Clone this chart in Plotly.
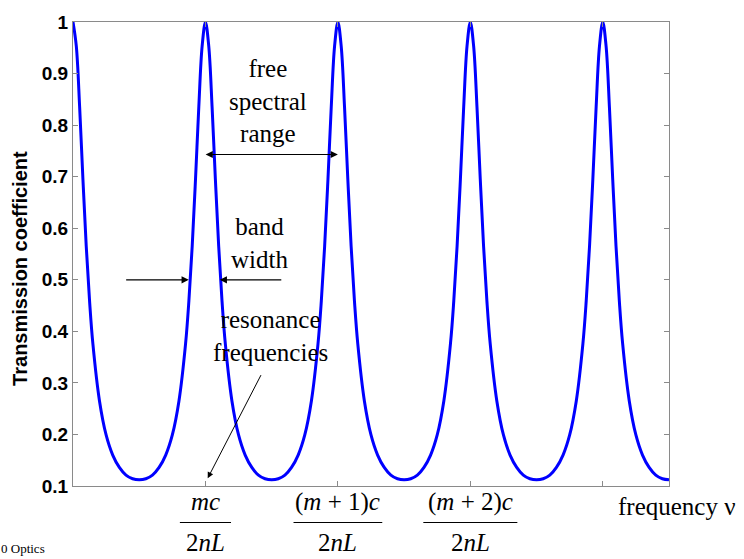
import plotly.graph_objects as go

# frequency in units of the free spectral range (c / 2nL)
frequency = [
    0.000, 0.025, 0.050, 0.075, 0.100, 0.125, 0.150, 0.200, 0.250, 0.300, 0.350, 0.400, 0.450,
    0.500, 0.550, 0.600, 0.650, 0.700, 0.750, 0.800, 0.850, 0.875, 0.900, 0.925, 0.950, 0.975,
    1.000, 1.025, 1.050, 1.075, 1.100, 1.125, 1.150, 1.200, 1.250, 1.300, 1.350, 1.400, 1.450,
    1.500, 1.550, 1.600, 1.650, 1.700, 1.750, 1.800, 1.850, 1.875, 1.900, 1.925, 1.950, 1.975,
    2.000, 2.025, 2.050, 2.075, 2.100, 2.125, 2.150, 2.200, 2.250, 2.300, 2.350, 2.400, 2.450,
    2.500, 2.550, 2.600, 2.650, 2.700, 2.750, 2.800, 2.850, 2.875, 2.900, 2.925, 2.950, 2.975,
    3.000, 3.025, 3.050, 3.075, 3.100, 3.125, 3.150, 3.200, 3.250, 3.300, 3.350, 3.400, 3.450,
    3.500, 3.550, 3.600, 3.650, 3.700, 3.750, 3.800, 3.850, 3.875, 3.900, 3.925, 3.950, 3.975,
    4.000, 4.025, 4.050, 4.075, 4.100, 4.125, 4.150, 4.200, 4.250, 4.300, 4.350, 4.400, 4.450,
    4.500,
]

transmission = [
    1.000, 0.953, 0.836, 0.695, 0.565, 0.459, 0.376, 0.265, 0.199, 0.160, 0.136, 0.121, 0.114,
    0.112, 0.114, 0.121, 0.136, 0.160, 0.199, 0.265, 0.376, 0.459, 0.565, 0.695, 0.836, 0.953,
    1.000, 0.953, 0.836, 0.695, 0.565, 0.459, 0.376, 0.265, 0.199, 0.160, 0.136, 0.121, 0.114,
    0.112, 0.114, 0.121, 0.136, 0.160, 0.199, 0.265, 0.376, 0.459, 0.565, 0.695, 0.836, 0.953,
    1.000, 0.953, 0.836, 0.695, 0.565, 0.459, 0.376, 0.265, 0.199, 0.160, 0.136, 0.121, 0.114,
    0.112, 0.114, 0.121, 0.136, 0.160, 0.199, 0.265, 0.376, 0.459, 0.565, 0.695, 0.836, 0.953,
    1.000, 0.953, 0.836, 0.695, 0.565, 0.459, 0.376, 0.265, 0.199, 0.160, 0.136, 0.121, 0.114,
    0.112, 0.114, 0.121, 0.136, 0.160, 0.199, 0.265, 0.376, 0.459, 0.565, 0.695, 0.836, 0.953,
    1.000, 0.953, 0.836, 0.695, 0.565, 0.459, 0.376, 0.265, 0.199, 0.160, 0.136, 0.121, 0.114,
    0.112,
]

y_tick_values = [0.1, 0.2, 0.3, 0.4, 0.5, 0.6, 0.7, 0.8, 0.9, 1.0]
y_tick_labels = ["0.1", "0.2", "0.3", "0.4", "0.5", "0.6", "0.7", "0.8", "0.9", "1"]
resonance_positions = [1, 2, 3, 4]
resonance_labels = ["<i>mc</i>", "(<i>m</i> + 1)<i>c</i>", "(<i>m</i> + 2)<i>c</i>"]
resonance_denominator = "2<i>nL</i>"

SERIF = "Liberation Serif, Times New Roman, serif"
SANS = "Liberation Sans, Arial, sans-serif"
AXIS_GRAY = "#8a8a8a"

fig = go.Figure()
fig.add_trace(go.Scatter(
    x=frequency, y=transmission, mode="lines",
    line=dict(color="#0000ff", width=3, shape="spline", smoothing=1.0),
    showlegend=False, hoverinfo="skip",
))

fig.update_layout(
    width=744, height=559,
    margin=dict(l=73, r=75, t=16, b=73),
    paper_bgcolor="white", plot_bgcolor="white",
    xaxis=dict(
        range=[0, 4.5], tickvals=resonance_positions, showticklabels=False,
        ticks="inside", ticklen=5, tickcolor=AXIS_GRAY, mirror="ticks",
        showline=True, linecolor=AXIS_GRAY, linewidth=1, showgrid=False, zeroline=False,
    ),
    yaxis=dict(
        range=[0.1, 1.0], tickvals=y_tick_values, ticktext=y_tick_labels,
        ticks="inside", ticklen=5, tickcolor=AXIS_GRAY, mirror="ticks",
        showline=True, linecolor=AXIS_GRAY, linewidth=1, showgrid=False, zeroline=False,
        tickfont=dict(family=SANS, size=19, color="black", weight="bold"),
    ),
)

annotations = []
# y axis title
annotations.append(dict(
    text="<b>Transmission coefficient</b>", xref="paper", yref="paper",
    x=-0.089, y=0.47, textangle=-90, showarrow=False,
    font=dict(family=SANS, size=20, color="black"),
    xanchor="center", yanchor="middle",
))

# resonance fraction labels under the axis
for pos, lab in zip(resonance_positions, resonance_labels):
    annotations.append(dict(
        text=lab, xref="x", yref="paper", x=pos, y=-0.034,
        showarrow=False, font=dict(family=SERIF, size=25, color="black"),
        xanchor="center", yanchor="middle",
    ))
    annotations.append(dict(
        text=resonance_denominator, xref="x", yref="paper", x=pos, y=-0.121,
        showarrow=False, font=dict(family=SERIF, size=25, color="black"),
        xanchor="center", yanchor="middle",
    ))

bar_half = [0.193, 0.335, 0.355]
for pos, hw in zip(resonance_positions, bar_half):
    fig.add_shape(type="line", xref="x", yref="paper",
                  x0=pos - hw, x1=pos + hw, y0=-0.0787, y1=-0.0787,
                  line=dict(color="black", width=1.2))

# frequency label
annotations.append(dict(
    text="frequency ν", xref="paper", yref="paper", x=1.013, y=-0.045,
    showarrow=False, font=dict(family=SERIF, size=25, color="black"),
    xanchor="center", yanchor="middle",
))

# free spectral range
annotations.append(dict(
    text="free<br>spectral<br>range", xref="x", yref="y", x=1.47, y=0.847,
    showarrow=False, font=dict(family=SERIF, size=25, color="black"),
    xanchor="center", yanchor="middle",
))
annotations.append(dict(
    text="", xref="x", yref="y", x=2.0, y=0.743, axref="x", ayref="y", ax=0.99, ay=0.743,
    showarrow=True, arrowhead=2, arrowside="end+start", arrowsize=1.2, arrowwidth=1.2,
    arrowcolor="black", standoff=0, startstandoff=0,
))

# band width
annotations.append(dict(
    text="band<br>width", xref="x", yref="y", x=1.405, y=0.571,
    showarrow=False, font=dict(family=SERIF, size=25, color="black"),
    xanchor="center", yanchor="middle",
))
annotations.append(dict(
    text="", xref="x", yref="y", x=0.874, y=0.5, axref="x", ayref="y", ax=0.39, ay=0.5,
    showarrow=True, arrowhead=2, arrowsize=1.2, arrowwidth=1.2, arrowcolor="black", standoff=0,
))
annotations.append(dict(
    text="", xref="x", yref="y", x=1.108, y=0.5, axref="x", ayref="y", ax=1.584, ay=0.5,
    showarrow=True, arrowhead=2, arrowsize=1.2, arrowwidth=1.2, arrowcolor="black", standoff=0,
))

# resonance frequencies
annotations.append(dict(
    text="resonance<br>frequencies", xref="x", yref="y", x=1.494, y=0.391,
    showarrow=False, font=dict(family=SERIF, size=25, color="black"),
    xanchor="center", yanchor="middle",
))
annotations.append(dict(
    text="", xref="x", yref="y", x=1.017, y=0.115, axref="x", ayref="y", ax=1.425, ay=0.318,
    showarrow=True, arrowhead=2, arrowsize=1.2, arrowwidth=1.0, arrowcolor="black", standoff=0,
))

# source credit (bottom-left corner)
annotations.append(dict(
    text="0 Optics", xref="paper", yref="paper", x=-0.1225, y=-0.1535,
    showarrow=False, font=dict(family=SERIF, size=13, color="black"),
    xanchor="left", yanchor="bottom", borderpad=0,
))

fig.update_layout(annotations=annotations)
fig.write_html("out.html")
